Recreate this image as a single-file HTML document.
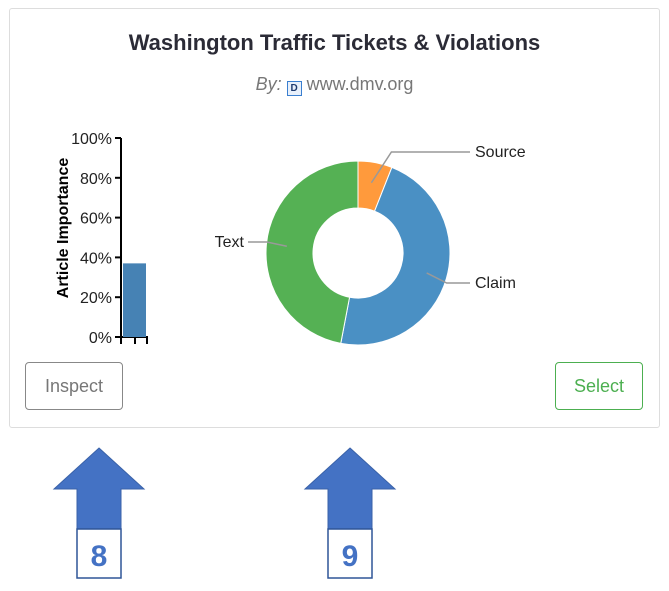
<!DOCTYPE html>
<html><head><meta charset="utf-8"><style>
body{margin:0;width:669px;height:591px;background:#fff;font-family:"Liberation Sans",sans-serif;position:relative;overflow:hidden}
.card{position:absolute;left:9px;top:8px;width:649px;height:418px;border:1px solid #ddd;border-radius:3px}
.title{position:absolute;left:0;width:669px;top:30px;text-align:center;font-size:22px;font-weight:bold;color:#2b2b36}
.by{position:absolute;left:0;width:669px;top:74px;text-align:center;font-size:18px;color:#777}
.btn{position:absolute;top:362px;height:46px;border:1px solid #888;border-radius:4px;font-size:18px;line-height:46px;text-align:center;background:#fff}
</style></head><body>
<div class="card"></div>
<div class="title">Washington Traffic Tickets &amp; Violations</div>
<div class="by"><i>By:</i> <span style="display:inline-block;width:13px;height:13px;border:1px solid #3a7fd0;background:#e8f0fb;font-size:10px;font-weight:bold;color:#1e3a6e;line-height:13px;vertical-align:-1px">D</span> www.dmv.org</div>
<div class="btn" style="left:25px;width:96px;color:#777">Inspect</div>
<div class="btn" style="left:555px;width:86px;color:#4caf50;border-color:#4caf50">Select</div>
<svg id="chart" width="669" height="591" style="position:absolute;left:0;top:0"></svg>
<script>
const barValues=[37];
const yTicks=[0,20,40,60,80,100];
const pieLabels=["Source","Claim","Text"];
const pieValues=[6,47,47];
const pieColors=["#ff9a3c","#4a90c4","#55b154"];
const NS="http://www.w3.org/2000/svg";
const svg=document.getElementById('chart');
function mk(t,a,p){const e=document.createElementNS(NS,t);for(const k in a)e.setAttribute(k,a[k]);(p||svg).appendChild(e);return e;}
const y=v=>337-v*1.99;
const axis=mk('line',{x1:121,y1:y(100),x2:121,y2:337,stroke:'#000','stroke-width':2});


yTicks.forEach(t=>{
 const tk=mk('line',{x1:115,y1:y(t),x2:121,y2:y(t),stroke:'#000','stroke-width':2});
 
 
 const tx=mk('text',{x:112,y:y(t)+6,'text-anchor':'end','font-size':16,fill:'#222'});
 tx.textContent=t+'%';
 
 
});
const xa=mk('path',{d:'M121,344V337H147V344M135,337V344',stroke:'#000','stroke-width':2,fill:'none'});


barValues.forEach(v=>{
 const b=mk('rect',{x:123,y:y(v),width:23,height:337-y(v),fill:'#4682b4'});
 
 
});
const yt=mk('text',{transform:'translate(68,228) rotate(-90)','text-anchor':'middle','font-size':16,'font-weight':'bold'});
yt.textContent='Article Importance';


const cx=358,cy=253,R=92,r=45;
const tot=pieValues.reduce((a,b)=>a+b,0);
let a0=0;
const pt=(a,rad)=>[cx+rad*Math.sin(a),cy-rad*Math.cos(a)];
pieValues.forEach((v,i)=>{
 const a1=a0+v/tot*2*Math.PI,lg=(a1-a0)>Math.PI?1:0;
 const [x0,y0]=pt(a0,R),[x1,y1]=pt(a1,R),[x2,y2]=pt(a1,r),[x3,y3]=pt(a0,r);
 const s=mk('path',{d:`M${x0},${y0}A${R},${R} 0 ${lg} 1 ${x1},${y1}L${x2},${y2}A${r},${r} 0 ${lg} 0 ${x3},${y3}Z`,fill:pieColors[i],stroke:'#fff','stroke-width':1});
 
 
 const m=(a0+a1)/2;const [ix,iy]=pt(m,(R+r)/2+3);
 const right=Math.sin(m)>=0;
 const lx=right?470:248, ly=right?(Math.cos(m)>0?152:283):242;
 const ln=mk('polyline',{points:`${ix},${iy} ${right?ix+20:ix-20},${ly} ${lx},${ly}`,stroke:'#999','stroke-width':1.5,fill:'none'});
 
 
 const tx=mk('text',{x:right?475:244,y:ly+5,'text-anchor':right?'start':'end','font-size':16,fill:'#222'});
 tx.textContent=pieLabels[i];
 
 
 a0=a1;
});
[[99,'8'],[350,'9']].forEach(([x,n])=>{
 const ar=mk('path',{d:`M${x},448L${x+45},489H${x+22}V529H${x-22}V489H${x-45}Z`,fill:'#4472c4',stroke:'#3a62a8'});
 
 
 const bx=mk('rect',{x:x-22,y:529,width:44,height:49,fill:'#fff',stroke:'#2f5597','stroke-width':1.5});
 
 
 const t=mk('text',{x:x,y:566,'text-anchor':'middle','font-size':30,'font-weight':'bold',fill:'#4472c4'});
 t.textContent=n;
 
 
});
</script>
</body></html>
